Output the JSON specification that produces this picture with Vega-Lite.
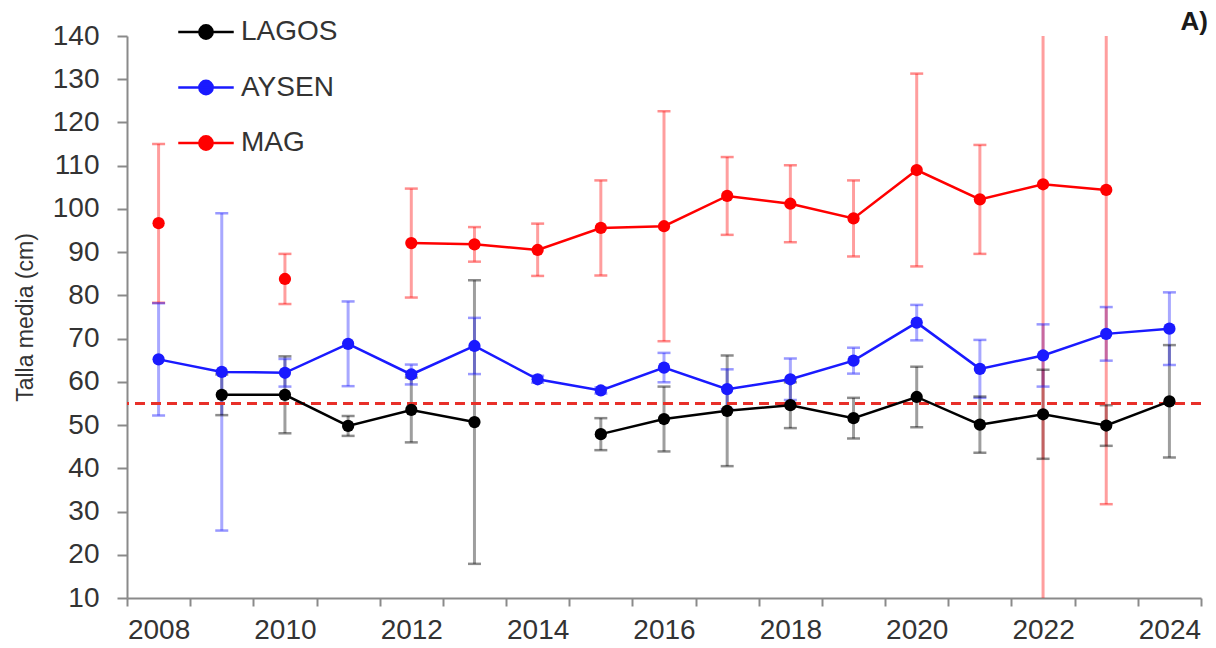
{
  "$schema": "https://vega.github.io/schema/vega-lite/v6.json",
  "width": 1074,
  "height": 562,
  "autosize": {"type": "none"},
  "padding": {"left": 127, "top": 36, "right": 15, "bottom": 50},
  "background": "white",
  "config": {"view": {"stroke": null}, "font": "Liberation Sans"},
  "title": {"text": "A)", "anchor": "end", "frame": "group", "fontSize": 26, "fontWeight": "bold", "color": "#1a1a1a", "dx": 7, "dy": 56, "offset": 3, "baseline": "alphabetic"},
  "data": {"values": [
    {"year": 2008, "series": "LAGOS", "mean": null, "lo": null, "hi": null},
    {"year": 2009, "series": "LAGOS", "mean": 57, "lo": 52.3, "hi": 61.7},
    {"year": 2010, "series": "LAGOS", "mean": 57, "lo": 48.1, "hi": 65.9},
    {"year": 2011, "series": "LAGOS", "mean": 49.8, "lo": 47.5, "hi": 52.1},
    {"year": 2012, "series": "LAGOS", "mean": 53.5, "lo": 46, "hi": 61},
    {"year": 2013, "series": "LAGOS", "mean": 50.7, "lo": 17.9, "hi": 83.5},
    {"year": 2014, "series": "LAGOS", "mean": null, "lo": null, "hi": null},
    {"year": 2015, "series": "LAGOS", "mean": 47.9, "lo": 44.2, "hi": 51.6},
    {"year": 2016, "series": "LAGOS", "mean": 51.4, "lo": 43.9, "hi": 58.9},
    {"year": 2017, "series": "LAGOS", "mean": 53.3, "lo": 40.5, "hi": 66.1},
    {"year": 2018, "series": "LAGOS", "mean": 54.6, "lo": 49.3, "hi": 59.9},
    {"year": 2019, "series": "LAGOS", "mean": 51.6, "lo": 46.9, "hi": 56.3},
    {"year": 2020, "series": "LAGOS", "mean": 56.5, "lo": 49.5, "hi": 63.5},
    {"year": 2021, "series": "LAGOS", "mean": 50.1, "lo": 43.6, "hi": 56.6},
    {"year": 2022, "series": "LAGOS", "mean": 52.5, "lo": 42.2, "hi": 62.8},
    {"year": 2023, "series": "LAGOS", "mean": 49.9, "lo": 45.2, "hi": 54.6},
    {"year": 2024, "series": "LAGOS", "mean": 55.5, "lo": 42.5, "hi": 68.5},
    {"year": 2008, "series": "AYSEN", "mean": 65.2, "lo": 52.2, "hi": 78.2},
    {"year": 2009, "series": "AYSEN", "mean": 62.3, "lo": 25.6, "hi": 99},
    {"year": 2010, "series": "AYSEN", "mean": 62.1, "lo": 58.9, "hi": 65.3},
    {"year": 2011, "series": "AYSEN", "mean": 68.8, "lo": 59, "hi": 78.6},
    {"year": 2012, "series": "AYSEN", "mean": 61.7, "lo": 59.4, "hi": 64},
    {"year": 2013, "series": "AYSEN", "mean": 68.3, "lo": 61.8, "hi": 74.8},
    {"year": 2014, "series": "AYSEN", "mean": 60.6, "lo": 59.8, "hi": 61.4},
    {"year": 2015, "series": "AYSEN", "mean": 58, "lo": 57.3, "hi": 58.7},
    {"year": 2016, "series": "AYSEN", "mean": 63.3, "lo": 59.9, "hi": 66.7},
    {"year": 2017, "series": "AYSEN", "mean": 58.3, "lo": 53.7, "hi": 62.9},
    {"year": 2018, "series": "AYSEN", "mean": 60.6, "lo": 55.8, "hi": 65.4},
    {"year": 2019, "series": "AYSEN", "mean": 64.9, "lo": 61.9, "hi": 67.9},
    {"year": 2020, "series": "AYSEN", "mean": 73.7, "lo": 69.6, "hi": 77.8},
    {"year": 2021, "series": "AYSEN", "mean": 63, "lo": 56.3, "hi": 69.7},
    {"year": 2022, "series": "AYSEN", "mean": 66.1, "lo": 58.9, "hi": 73.3},
    {"year": 2023, "series": "AYSEN", "mean": 71.1, "lo": 64.9, "hi": 77.3},
    {"year": 2024, "series": "AYSEN", "mean": 72.3, "lo": 63.9, "hi": 80.7},
    {"year": 2008, "series": "MAG", "mean": 96.7, "lo": 78.3, "hi": 115},
    {"year": 2009, "series": "MAG", "mean": null, "lo": null, "hi": null},
    {"year": 2010, "series": "MAG", "mean": 83.8, "lo": 78, "hi": 89.6},
    {"year": 2011, "series": "MAG", "mean": null, "lo": null, "hi": null},
    {"year": 2012, "series": "MAG", "mean": 92.1, "lo": 79.5, "hi": 104.7},
    {"year": 2013, "series": "MAG", "mean": 91.8, "lo": 87.8, "hi": 95.8},
    {"year": 2014, "series": "MAG", "mean": 90.5, "lo": 84.5, "hi": 96.6},
    {"year": 2015, "series": "MAG", "mean": 95.6, "lo": 84.6, "hi": 106.6},
    {"year": 2016, "series": "MAG", "mean": 96, "lo": 69.4, "hi": 122.6},
    {"year": 2017, "series": "MAG", "mean": 103, "lo": 94, "hi": 112},
    {"year": 2018, "series": "MAG", "mean": 101.2, "lo": 92.3, "hi": 110.1},
    {"year": 2019, "series": "MAG", "mean": 97.8, "lo": 89, "hi": 106.6},
    {"year": 2020, "series": "MAG", "mean": 109, "lo": 86.7, "hi": 131.3},
    {"year": 2021, "series": "MAG", "mean": 102.2, "lo": 89.6, "hi": 114.8},
    {"year": 2022, "series": "MAG", "mean": 105.7, "lo": 4, "hi": 207},
    {"year": 2023, "series": "MAG", "mean": 104.4, "lo": 31.7, "hi": 177.1},
    {"year": 2024, "series": "MAG", "mean": null, "lo": null, "hi": null}
  ]},
  "encoding": {
    "x": {
      "field": "year", "type": "ordinal",
      "scale": {"type": "band", "paddingInner": 0, "paddingOuter": 0},
      "axis": {
        "title": null, "labelAngle": 0, "tickBand": "extent",
        "labelExpr": "datum.value % 2 == 0 ? datum.label : ''",
        "labelFontSize": 28, "labelColor": "#333333", "labelOverlap": false, "labelFlush": false,
        "domainColor": "#8a8a8a", "domainWidth": 2, "tickColor": "#8a8a8a", "tickWidth": 2,
        "tickSize": 8, "labelPadding": 10
      }
    },
    "color": {"field": "series", "type": "nominal",
      "scale": {"domain": ["LAGOS", "AYSEN", "MAG"], "range": ["#000000", "#1a1aff", "#ff0000"]},
      "legend": {
        "orient": "none", "legendX": 50, "legendY": -33, "title": null,
        "values": ["LAGOS", "AYSEN", "MAG"],
        "symbolType": "M-1,0H1M-0.24,0A0.24,0.24 0 1,1 0.24,0A0.24,0.24 0 1,1 -0.24,0Z",
        "symbolSize": 3080, "symbolStrokeWidth": 2.5, "symbolOpacity": 1,
        "labelFontSize": 28, "labelColor": "#333333", "labelOffset": 6,
        "rowPadding": 12.5, "padding": 0,
        "encode": {"symbols": {"update": {"fill": {"field": "value", "scale": "color"}, "stroke": {"field": "value", "scale": "color"}, "opacity": {"value": 1}}}}
      }
    }
  },
  "layer": [
    {
      "mark": {"type": "rule", "strokeWidth": 3, "opacity": 0.38, "clip": true},
      "encoding": {
        "y": {"field": "lo", "type": "quantitative", "scale": {"domain": [10, 140], "nice": false, "zero": false},
          "axis": {
            "title": "Talla media (cm)", "values": [10, 20, 30, 40, 50, 60, 70, 80, 90, 100, 110, 120, 130, 140],
            "grid": false, "labelFontSize": 28, "labelColor": "#333333", "tickSize": 10, "labelPadding": 18,
            "domainColor": "#8a8a8a", "domainWidth": 2, "tickColor": "#8a8a8a", "tickWidth": 2,
            "titleFontSize": 23, "titleFontWeight": "normal", "titleColor": "#333333",
            "titleX": -102, "titleY": 281, "titleAngle": 270, "titleAlign": "center", "titleBaseline": "middle"
          }},
        "y2": {"field": "hi"}
      }
    },
    {
      "mark": {"type": "tick", "size": 13, "thickness": 2.5, "opacity": 0.45, "clip": true},
      "encoding": {"y": {"field": "lo", "type": "quantitative"}}
    },
    {
      "mark": {"type": "tick", "size": 13, "thickness": 2.5, "opacity": 0.45, "clip": true},
      "encoding": {"y": {"field": "hi", "type": "quantitative"}}
    },
    {
      "mark": {"type": "rule", "strokeWidth": 2.5, "strokeDash": [10, 6]},
      "encoding": {"y": {"datum": 55}, "x": null, "color": {"value": "#e8302a"}}
    },
    {
      "mark": {"type": "line", "strokeWidth": 2.5, "invalid": "break-paths-show-domains"},
      "encoding": {"y": {"field": "mean", "type": "quantitative"}}
    },
    {
      "mark": {"type": "point", "filled": true, "size": 150, "opacity": 1},
      "encoding": {"y": {"field": "mean", "type": "quantitative"}}
    }
  ]
}
